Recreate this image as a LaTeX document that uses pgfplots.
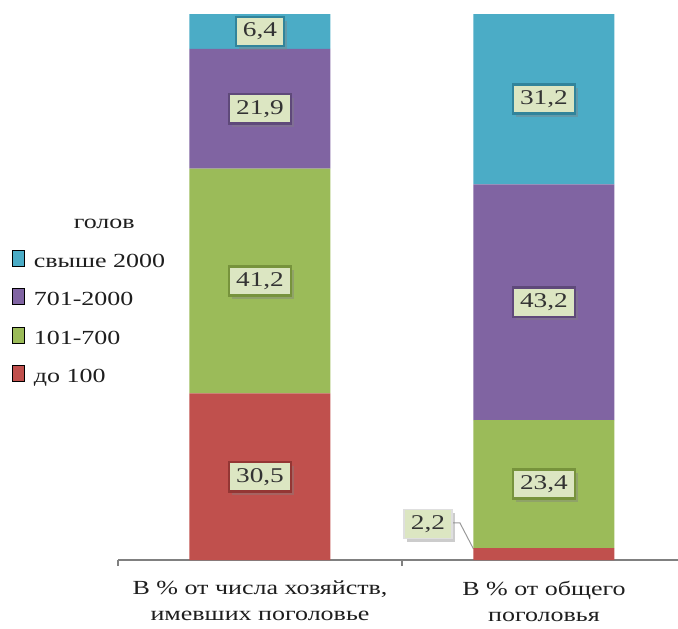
\documentclass[border=0pt]{standalone}
\usepackage{pgfplots}
\pgfplotsset{compat=1.18}
\usepackage{fontspec}
\setmainfont{Liberation Serif}[FakeStretch=1.3]
\usetikzlibrary{shadows}
\definecolor{cC}{HTML}{4BACC6}
\definecolor{cP}{HTML}{8064A2}
\definecolor{cG}{HTML}{9BBB59}
\definecolor{cR}{HTML}{C0504D}
\definecolor{bC}{HTML}{31849B}
\definecolor{bP}{HTML}{5F497A}
\definecolor{bG}{HTML}{77933C}
\definecolor{bR}{HTML}{943634}
\definecolor{lblfill}{HTML}{DCE6C2}
\definecolor{lbltxt}{HTML}{333333}
\definecolor{txt}{HTML}{1E1E1E}
\begin{document}
\begin{tikzpicture}
\useasboundingbox (-59pt,-34pt) rectangle (280pt,280pt);
\begin{axis}[
  at={(0,0)}, anchor=south west,
  scale only axis, width=280pt, height=273pt,
  ybar stacked, bar width=70.5pt,
  xmin=-0.5, xmax=1.472, ymin=0, ymax=100,
  enlargelimits=false,
  axis y line=none, axis x line*=bottom,
  x axis line style={-, draw=gray, line width=0.8pt},
  xtick={0,1},
  xtick pos=bottom,
  xticklabels={{В \% от числа хозяйств,\\имевших поголовье},{В \% от общего\\поголовья}},
  xticklabel style={align=center, font=\fontsize{10}{13}\selectfont, text=txt, yshift=-7pt},
  major tick length=0pt,
  extra x ticks={-0.5,0.5},
  extra x tick labels={},
  extra x tick style={major tick length=3pt, tick align=outside, tick style={draw=gray, line width=0.8pt}},
  point meta=explicit symbolic,
  nodes near coords,
  visualization depends on=value \coordindex \as \myidx,
  every node near coord/.append style={anchor=center, fill=lblfill, text=lbltxt, font=\fontsize{10.5}{12}\selectfont, inner xsep=3.5pt, inner ysep=3pt, line width=1.3pt, drop shadow={shadow xshift=1.6pt,shadow yshift=-1.8pt,opacity=0.4}},
  ybar legend/.style={legend image code/.code={\fill[##1] (0pt,-2.25pt) rectangle (5pt,2.25pt);}},
  legend style={draw=none, fill=none, at={(axis description cs:-0.19,0.632)}, anchor=north west, font=\fontsize{10}{12}\selectfont, text=txt, row sep=7pt, inner sep=0pt, nodes={inner xsep=4.5pt}},
  legend cell align=left,
  reverse legend,
]
\addplot[fill=cR, draw=none, every node near coord/.append style={draw=bR,
  /utils/exec={\ifnum\myidx=1 \pgfkeysalso{xshift=-58pt, yshift=15pt, draw=gray!25, line width=0.8pt}\fi}}]
  coordinates {(0,30.5) [30,5] (1,2.2) [2,2]};
\addlegendentry{до 100}
\addplot[fill=cG, draw=none, every node near coord/.append style={draw=bG}]
  coordinates {(0,41.2) [41,2] (1,23.4) [23,4]};
\addlegendentry{101-700}
\addplot[fill=cP, draw=none, every node near coord/.append style={draw=bP}]
  coordinates {(0,21.9) [21,9] (1,43.2) [43,2]};
\addlegendentry{701-2000}
\addplot[fill=cC, draw=none, every node near coord/.append style={draw=bC}]
  coordinates {(0,6.4) [6,4] (1,31.2) [31,2]};
\addlegendentry{свыше 2000}
\addlegendimage{empty legend}
\addlegendentry{\hspace{20pt}голов}
\draw[gray!80, line width=0.5pt] (axis cs:0.676,6.8) -- (axis cs:0.704,6.8) -- (axis cs:0.752,2.0);
\end{axis}
\end{tikzpicture}
\end{document}
